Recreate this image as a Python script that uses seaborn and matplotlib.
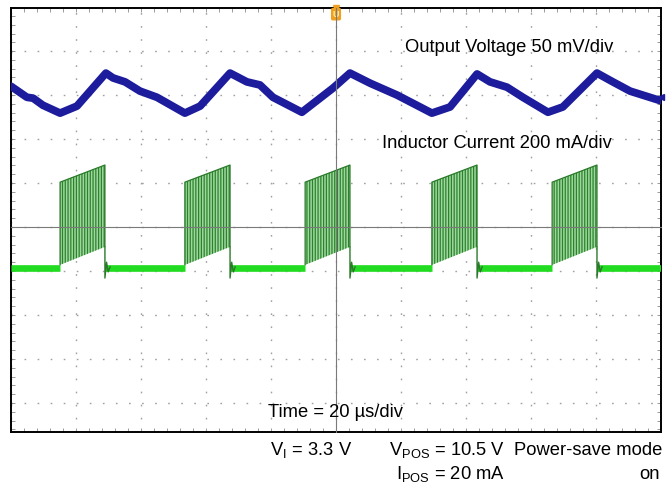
import matplotlib
matplotlib.use("Agg")
import matplotlib.pyplot as plt
from matplotlib.ticker import MultipleLocator
import pandas as pd
import seaborn as sns

# scope readings: time in us (0 = trigger), level in screen divisions (0 = centre line)
vout_t = [-100.0, -95.1, -93.2, -90.2, -84.9, -79.7, -70.8, -68.6, -64.9, -60.3, -55.1,
          -46.5, -41.8, -32.6, -27.4, -23.4, -19.4, -10.5, -0.9, 4.3, 10.5, 18.8,
          29.5, 35.1, 43.4, 47.4, 52.6, 57.5, 65.2, 69.8, 80.3, 85.2, 90.5, 99.1, 100.0]
vout_div = [3.20, 2.95, 2.93, 2.77, 2.59, 2.75, 3.50, 3.39, 3.30, 3.09, 2.95,
            2.59, 2.75, 3.50, 3.30, 3.23, 2.95, 2.61, 3.16, 3.50, 3.27, 3.00,
            2.59, 2.73, 3.48, 3.30, 3.18, 2.95, 2.61, 2.73, 3.50, 3.30, 3.09, 2.89, 2.87]

# inductor current switching bursts
burst_start = [-84.9, -46.5, -9.5, 29.5, 66.5]
burst_end = [-71.1, -32.6, 4.3, 43.4, 80.3]
burst_low_a = [-0.86, -0.86, -0.86, -0.86, -0.86]
burst_low_b = [-0.45, -0.45, -0.45, -0.45, -0.45]
burst_high_a = [1.02, 1.02, 1.02, 1.02, 1.02]
burst_high_b = [1.41, 1.41, 1.41, 1.41, 1.41]
il_base = -0.93
il_ring = [-1.16, -0.80, -1.02, -0.90]

trigger_t = 0.0
trigger_level = 4.84
ch1_ref_level = 2.95

sns.set_theme(style="white")
plt.rcParams["font.family"] = ["Liberation Sans", "DejaVu Sans"]
plt.rcParams["mathtext.fontset"] = "custom"
plt.rcParams["mathtext.rm"] = "Liberation Sans"
plt.rcParams["hatch.linewidth"] = 0.9
plt.rcParams["text.color"] = "black"

fig = plt.figure(figsize=(6.66, 4.90), dpi=100)
ax = fig.add_axes([11 / 666, 58 / 490, 650 / 666, 424 / 490])
ax.set_xlim(-100, 100)
ax.set_ylim(-4.66, 4.98)

# graticule
ax.xaxis.set_major_locator(MultipleLocator(20))
ax.yaxis.set_major_locator(MultipleLocator(1))
ax.xaxis.set_minor_locator(MultipleLocator(4))
ax.yaxis.set_minor_locator(MultipleLocator(0.2))
ax.grid(which="major", color="#a0a0a0", linestyle=(0, (1.2, 8.2)), lw=1.0)
ax.tick_params(which="both", direction="in", length=3, width=0.6, color="#8a8a8a",
               top=True, right=True, bottom=True, left=True,
               labelbottom=False, labelleft=False)
for sp in ax.spines.values():
    sp.set_color("black")
    sp.set_linewidth(1.4)

# green inductor current: idle baseline between bursts
base_color = "#22dc22"
dark_green = "#2a7a2a"
gap_from = [-100.0] + burst_end
gap_to = burst_start + [100.0]
for t0, t1 in zip(gap_from, gap_to):
    seg = pd.DataFrame({"t": [t0, t1], "v": [il_base, il_base]})
    sns.lineplot(data=seg, x="t", y="v", ax=ax, color=base_color, lw=4.8,
                 sort=False, estimator=None, zorder=3, solid_capstyle="butt")

# ringing right after each burst
for e, lb in zip(burst_end, burst_low_b):
    ring = pd.DataFrame({"t": [e, e, e + 0.5, e + 1.0, e + 1.6],
                         "v": [lb, il_ring[0], il_ring[1], il_ring[2], il_ring[3]]})
    sns.lineplot(data=ring, x="t", y="v", ax=ax, color=dark_green, lw=1.0,
                 sort=False, estimator=None, zorder=5)

# switching bursts
for s, e, la, lb, ha, hb in zip(burst_start, burst_end, burst_low_a, burst_low_b,
                                burst_high_a, burst_high_b):
    ax.fill_between([s, e], [la, lb], [ha, hb], facecolor="#9fd89f",
                    edgecolor="#2c822c", hatch="||||||", lw=0, zorder=4)
    edge = pd.DataFrame({"t": [s, s, e, e], "v": [la, ha, hb, lb]})
    sns.lineplot(data=edge, x="t", y="v", ax=ax, color=dark_green, lw=0.9,
                 sort=False, estimator=None, zorder=5)

# blue output voltage
vout = pd.DataFrame({"t": vout_t, "v": vout_div})
sns.lineplot(data=vout, x="t", y="v", ax=ax, color="#1c1c9c", lw=5.6,
             sort=False, estimator=None, zorder=6)
ax.set_xlabel("")
ax.set_ylabel("")

# trigger and channel markers
ax.plot([trigger_t], [4.98], marker="v", color="#f0a020", ms=4, clip_on=False, zorder=8)
ax.text(trigger_t, trigger_level, "U", color="#fff0b0", fontsize=6.5, ha="center",
        va="center", fontweight="bold", zorder=8,
        bbox=dict(boxstyle="round,pad=0.2", fc="#f0a020", ec="none"))
ax.plot([100], [ch1_ref_level], marker="<", color="#1c1c9c", ms=4, clip_on=False, zorder=8)

# centre cross with tick marks
ax2 = fig.add_axes(ax.get_position(), sharex=ax, sharey=ax)
ax2.patch.set_visible(False)
ax2.spines["left"].set_position(("data", 0))
ax2.spines["bottom"].set_position(("data", 0))
ax2.spines["top"].set_visible(False)
ax2.spines["right"].set_visible(False)
for k in ("left", "bottom"):
    ax2.spines[k].set_color("#7a7a7a")
    ax2.spines[k].set_linewidth(0.8)
ax2.tick_params(which="both", direction="inout", length=5, width=0.7, color="#7a7a7a",
                labelbottom=False, labelleft=False, top=False, right=False)
ax2.grid(False)

# annotations
fs = 13.2
fig.text(613 / 666, (490 - 52) / 490, "Output Voltage 50 mV/div", ha="right", va="baseline", fontsize=fs)
fig.text(612 / 666, (490 - 148) / 490, "Inductor Current 200 mA/div", ha="right", va="baseline", fontsize=fs)
fig.text(336 / 666, (490 - 417) / 490, "Time = 20 µs/div", ha="center", va="baseline", fontsize=fs)
fig.text(270 / 666, (490 - 455) / 490, r"V$_\mathregular{I}$ = 3.3 V", ha="left", va="baseline", fontsize=fs)
fig.text(505 / 666, (490 - 455) / 490, r"V$_\mathregular{POS}$ = 10.5 V", ha="right", va="baseline", fontsize=fs)
fig.text(505 / 666, (490 - 479) / 490, r"I$_\mathregular{POS}$ = 20 mA", ha="right", va="baseline", fontsize=fs)
fig.text(662 / 666, (490 - 455) / 490, "Power-save mode", ha="right", va="baseline", fontsize=fs)
fig.text(660 / 666, (490 - 479) / 490, "on", ha="right", va="baseline", fontsize=fs)

fig.savefig("out.png", dpi=100)
